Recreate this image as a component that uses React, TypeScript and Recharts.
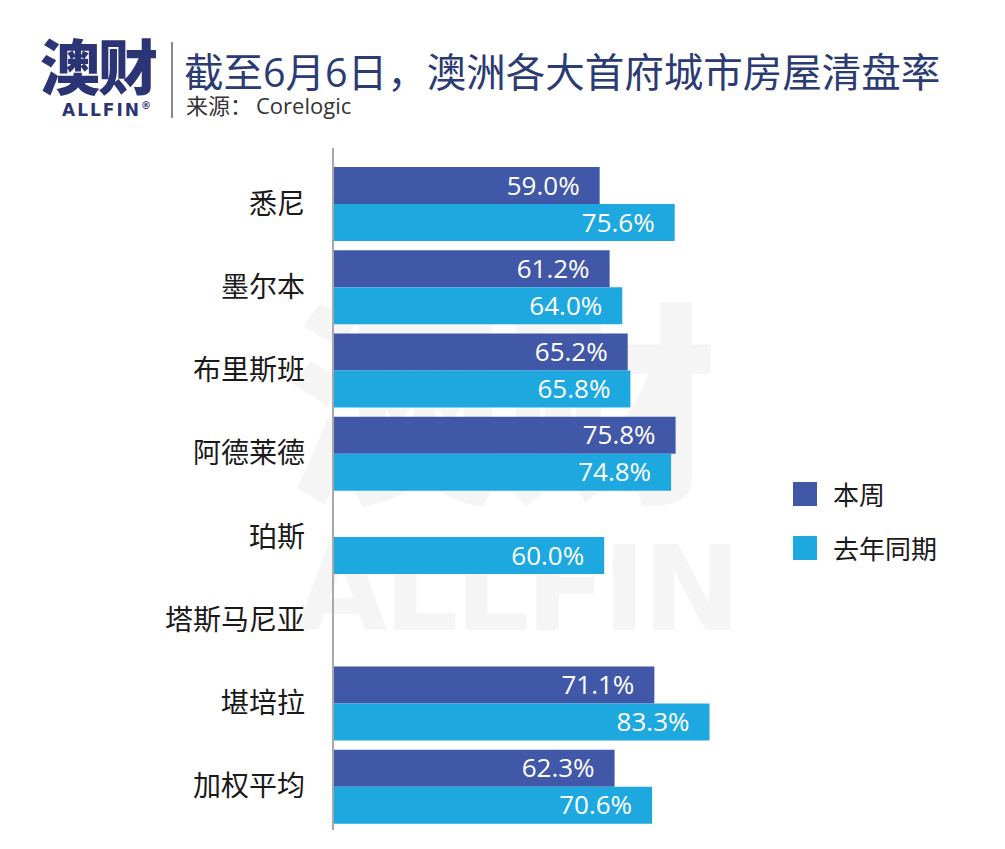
import React from "react";
import { BarChart, Bar, XAxis, YAxis, Legend, LabelList } from "recharts";

const cities = ["悉尼", "墨尔本", "布里斯班", "阿德莱德", "珀斯", "塔斯马尼亚", "堪培拉", "加权平均"];
const thisWeek = [59.0, 61.2, 65.2, 75.8, null, null, 71.1, 62.3];
const lastYear = [75.6, 64.0, 65.8, 74.8, 60.0, null, 83.3, 70.6];
const seriesNames = ["本周", "去年同期"];

const data = cities.map((city, i) => ({ city, thisWeek: thisWeek[i], lastYear: lastYear[i] }));

const FONT = "'Open Sans', 'Noto Sans CJK SC', sans-serif";
const DARK = "#4157a8";
const LIGHT = "#1ea8e0";

const CityTick = (props: any) => {
  const { y, payload } = props;
  return (
    <text x={305} y={y} dy={10} textAnchor="end" fontSize={28} fill="#1a1a1a" fontFamily={FONT}>
      {payload.value}
    </text>
  );
};

const ValueLabel = (props: any) => {
  const { x, y, width, height, value } = props;
  if (value == null) return null;
  return (
    <text x={x + width - 20} y={y + height / 2} dy={9} textAnchor="end" fontSize={26} fill="#fff" fontFamily={FONT}>
      {value.toFixed(1) + "%"}
    </text>
  );
};

const LegendBox = (props: any) => {
  const items = [...props.payload].sort((a: any, b: any) => seriesNames.indexOf(a.value) - seriesNames.indexOf(b.value));
  return (
    <div style={{ fontFamily: FONT }}>
      {items.map((p: any) => (
        <div key={p.value} style={{ display: "flex", alignItems: "center", height: 54 }}>
          <span style={{ width: 24, height: 24, background: p.color, marginRight: 16 }} />
          <span style={{ fontSize: 26, color: "#1a1a1a" }}>{p.value}</span>
        </div>
      ))}
    </div>
  );
};

export default function App() {
  return (
    <div style={{ position: "relative", width: 1005, height: 849, background: "#fff", fontFamily: FONT, overflow: "hidden" }}>
      <style>{`body{margin:0}`}</style>
      {/* watermark */}
      <div style={{ position: "absolute", left: 288, top: 285, fontSize: 215, fontWeight: 900, color: "#000", opacity: 0.035, fontFamily: "'Noto Sans CJK SC'", lineHeight: 1 }}>澳财</div>
      <div style={{ position: "absolute", left: 296, top: 530, fontSize: 118, fontWeight: 900, color: "#000", opacity: 0.035, fontFamily: "'DejaVu Sans'", letterSpacing: -4, lineHeight: 1 }}>ALLFIN</div>

      {/* logo */}
      <div style={{ position: "absolute", left: 40, top: 28, fontSize: 60, fontWeight: 900, color: "#2b3474", fontFamily: "'Noto Sans CJK SC'", lineHeight: 1.2, letterSpacing: -2 }}>澳财</div>
      <div style={{ position: "absolute", left: 62, top: 100, fontSize: 17, fontWeight: 800, color: "#2b3474", fontFamily: "'DejaVu Sans'", letterSpacing: 2 }}>
        ALLFIN<sup style={{ fontSize: 10, letterSpacing: 0 }}>®</sup>
      </div>
      <div style={{ position: "absolute", left: 171, top: 42, width: 2, height: 76, background: "#8a8a8a" }} />
      <div style={{ position: "absolute", left: 184, top: 49, fontSize: 39.5, color: "#2b3b73", lineHeight: 1.2, whiteSpace: "nowrap" }}>
        截至6月6日，澳洲各大首府城市房屋清盘率
      </div>
      <div style={{ position: "absolute", left: 186, top: 92, fontSize: 22, color: "#333", lineHeight: 1.2, whiteSpace: "nowrap" }}>
        来源：<span style={{ marginLeft: 4 }}>Corelogic</span>
      </div>

      <div style={{ position: "absolute", left: 0, top: 0 }}>
        <BarChart width={1005} height={849} data={data} layout="vertical" barGap={0} barSize={37}
          margin={{ top: 148, right: 220, bottom: 19, left: 0 }}>
          <XAxis type="number" domain={[0, 100]} hide />
          <YAxis type="category" dataKey="city" width={333} tick={<CityTick />} tickLine={false}
            axisLine={{ stroke: "#a8a8a8", strokeWidth: 2 }} padding={{ top: 14, bottom: 2 }} />
          <Legend layout="vertical" align="center" verticalAlign="middle" content={<LegendBox />}
            wrapperStyle={{ left: 793, top: 467, width: 200 }} />
          <Bar dataKey="thisWeek" name="本周" fill={DARK} isAnimationActive={false}>
            <LabelList dataKey="thisWeek" content={<ValueLabel />} />
          </Bar>
          <Bar dataKey="lastYear" name="去年同期" fill={LIGHT} isAnimationActive={false}>
            <LabelList dataKey="lastYear" content={<ValueLabel />} />
          </Bar>
        </BarChart>
      </div>
    </div>
  );
}
